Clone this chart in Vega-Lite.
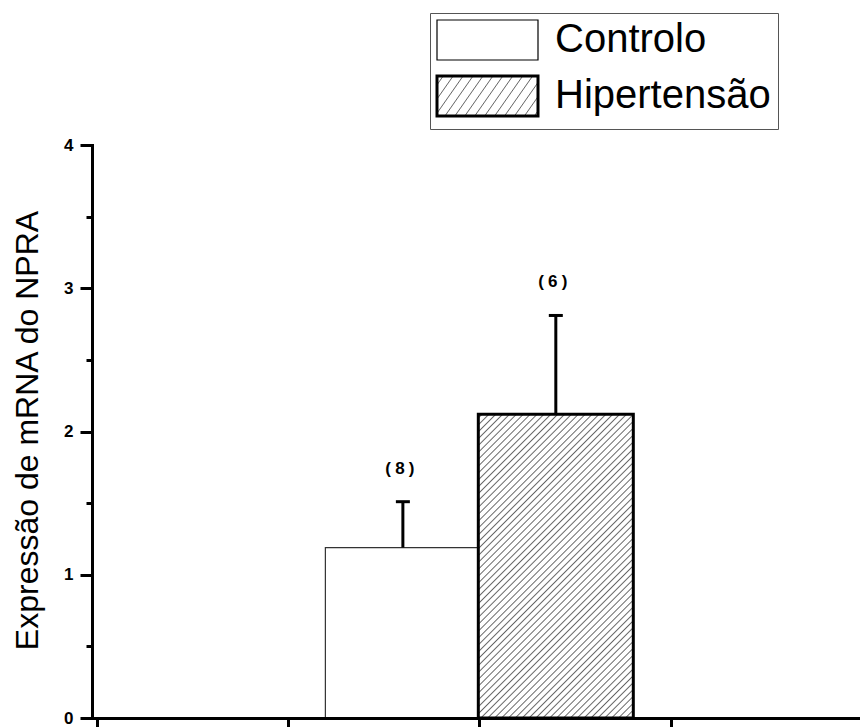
{
  "$schema": "https://vega.github.io/schema/vega-lite/v6.json",
  "width": 768,
  "height": 573,
  "autosize": {"type": "none"},
  "padding": {"left": 92, "top": 145, "right": 0, "bottom": 9},
  "background": "white",
  "config": {"view": {"stroke": null}, "font": "Liberation Sans",
    "axis": {"labelFontSize": 17},
    "axisY": {"labelFontSize": 17, "labelFontWeight": "bold", "labelFont": "Liberation Sans"},
    "axisLeft": {"labelFontSize": 17},
    "axisQuantitative": {"labelFontSize": 17}},
  "data": {"values": [
    {"group": "Controlo", "pos": 1.6, "value": 1.19, "upper": 1.51, "n": "(\u20058\u2005)"},
    {"group": "Hipertensão", "pos": 2.4, "value": 2.12, "upper": 2.81, "n": "(\u20056\u2005)"}
  ]},
  "layer": [
    {
      "mark": {"type": "bar", "width": 155, "orient": "vertical"},
      "encoding": {
        "x": {"field": "pos", "type": "quantitative",
          "scale": {"domain": [0, 3.965], "nice": false, "zero": false},
          "axis": {"title": null, "values": [0, 1, 2, 3], "labels": false, "tickSize": 10, "tickWidth": 3, "tickColor": "#000", "domainWidth": 3, "domainColor": "#000", "domainCap": "square", "grid": false, "zindex": 1}},
        "y": {"field": "value", "type": "quantitative", "stack": null,
          "scale": {"domain": [0, 4], "nice": false},
          "axis": {"title": "Expressão de mRNA do NPRA", "values": [0, 0.5, 1, 1.5, 2, 2.5, 3, 3.5, 4],
            "labelExpr": "datum.value % 1 === 0 ? '' + datum.value : ''",
            "tickSize": 12,
            "tickDash": {"condition": {"test": "datum.value % 1 !== 0", "value": [6, 30]}, "value": []},
            "tickWidth": 3, "tickColor": "#000", "domainWidth": 3, "domainColor": "#000", "domainCap": "square",
            "labelFontSize": 17, "labelFontWeight": "bold", "labelColor": "#000", "labelPadding": 7, "labelOverlap": false,
            "grid": false, "zindex": 1,
            "titleFont": "Liberation Sans", "titleFontSize": 32, "titleFontWeight": "normal", "titleColor": "#000",
            "titleX": -55, "titleY": 285, "titleAlign": "center", "titleBaseline": "alphabetic", "titleAngle": -90}},
        "fill": {
          "condition": {"test": "datum.group === 'Hipertensão'", "value": {"gradient": "linear", "x1": 0, "y1": 0, "x2": 0.611, "y2": 1.198, "stops": [
            {"offset":0.005,"color":"#fff"},{"offset":0.008,"color":"#666"},{"offset":0.011,"color":"#fff"},
            {"offset":0.02,"color":"#fff"},{"offset":0.023,"color":"#666"},{"offset":0.026,"color":"#fff"},
            {"offset":0.035,"color":"#fff"},{"offset":0.038,"color":"#666"},{"offset":0.041,"color":"#fff"},
            {"offset":0.05,"color":"#fff"},{"offset":0.053,"color":"#666"},{"offset":0.056,"color":"#fff"},
            {"offset":0.065,"color":"#fff"},{"offset":0.068,"color":"#666"},{"offset":0.071,"color":"#fff"},
            {"offset":0.08,"color":"#fff"},{"offset":0.083,"color":"#666"},{"offset":0.086,"color":"#fff"},
            {"offset":0.095,"color":"#fff"},{"offset":0.098,"color":"#666"},{"offset":0.101,"color":"#fff"},
            {"offset":0.11,"color":"#fff"},{"offset":0.113,"color":"#666"},{"offset":0.116,"color":"#fff"},
            {"offset":0.125,"color":"#fff"},{"offset":0.128,"color":"#666"},{"offset":0.131,"color":"#fff"},
            {"offset":0.14,"color":"#fff"},{"offset":0.143,"color":"#666"},{"offset":0.146,"color":"#fff"},
            {"offset":0.155,"color":"#fff"},{"offset":0.158,"color":"#666"},{"offset":0.161,"color":"#fff"},
            {"offset":0.17,"color":"#fff"},{"offset":0.173,"color":"#666"},{"offset":0.176,"color":"#fff"},
            {"offset":0.185,"color":"#fff"},{"offset":0.188,"color":"#666"},{"offset":0.191,"color":"#fff"},
            {"offset":0.2,"color":"#fff"},{"offset":0.203,"color":"#666"},{"offset":0.206,"color":"#fff"},
            {"offset":0.215,"color":"#fff"},{"offset":0.218,"color":"#666"},{"offset":0.221,"color":"#fff"},
            {"offset":0.23,"color":"#fff"},{"offset":0.233,"color":"#666"},{"offset":0.236,"color":"#fff"},
            {"offset":0.245,"color":"#fff"},{"offset":0.248,"color":"#666"},{"offset":0.251,"color":"#fff"},
            {"offset":0.26,"color":"#fff"},{"offset":0.263,"color":"#666"},{"offset":0.266,"color":"#fff"},
            {"offset":0.275,"color":"#fff"},{"offset":0.278,"color":"#666"},{"offset":0.281,"color":"#fff"},
            {"offset":0.29,"color":"#fff"},{"offset":0.293,"color":"#666"},{"offset":0.296,"color":"#fff"},
            {"offset":0.305,"color":"#fff"},{"offset":0.308,"color":"#666"},{"offset":0.311,"color":"#fff"},
            {"offset":0.32,"color":"#fff"},{"offset":0.323,"color":"#666"},{"offset":0.326,"color":"#fff"},
            {"offset":0.335,"color":"#fff"},{"offset":0.338,"color":"#666"},{"offset":0.341,"color":"#fff"},
            {"offset":0.35,"color":"#fff"},{"offset":0.353,"color":"#666"},{"offset":0.356,"color":"#fff"},
            {"offset":0.365,"color":"#fff"},{"offset":0.368,"color":"#666"},{"offset":0.371,"color":"#fff"},
            {"offset":0.38,"color":"#fff"},{"offset":0.383,"color":"#666"},{"offset":0.386,"color":"#fff"},
            {"offset":0.395,"color":"#fff"},{"offset":0.398,"color":"#666"},{"offset":0.401,"color":"#fff"},
            {"offset":0.41,"color":"#fff"},{"offset":0.413,"color":"#666"},{"offset":0.416,"color":"#fff"},
            {"offset":0.425,"color":"#fff"},{"offset":0.428,"color":"#666"},{"offset":0.431,"color":"#fff"},
            {"offset":0.44,"color":"#fff"},{"offset":0.443,"color":"#666"},{"offset":0.446,"color":"#fff"},
            {"offset":0.455,"color":"#fff"},{"offset":0.458,"color":"#666"},{"offset":0.461,"color":"#fff"},
            {"offset":0.47,"color":"#fff"},{"offset":0.473,"color":"#666"},{"offset":0.476,"color":"#fff"},
            {"offset":0.485,"color":"#fff"},{"offset":0.488,"color":"#666"},{"offset":0.491,"color":"#fff"},
            {"offset":0.5,"color":"#fff"},{"offset":0.503,"color":"#666"},{"offset":0.506,"color":"#fff"},
            {"offset":0.515,"color":"#fff"},{"offset":0.518,"color":"#666"},{"offset":0.521,"color":"#fff"},
            {"offset":0.53,"color":"#fff"},{"offset":0.533,"color":"#666"},{"offset":0.536,"color":"#fff"},
            {"offset":0.545,"color":"#fff"},{"offset":0.548,"color":"#666"},{"offset":0.551,"color":"#fff"},
            {"offset":0.56,"color":"#fff"},{"offset":0.563,"color":"#666"},{"offset":0.566,"color":"#fff"},
            {"offset":0.575,"color":"#fff"},{"offset":0.578,"color":"#666"},{"offset":0.581,"color":"#fff"},
            {"offset":0.59,"color":"#fff"},{"offset":0.593,"color":"#666"},{"offset":0.596,"color":"#fff"},
            {"offset":0.605,"color":"#fff"},{"offset":0.608,"color":"#666"},{"offset":0.611,"color":"#fff"},
            {"offset":0.62,"color":"#fff"},{"offset":0.623,"color":"#666"},{"offset":0.626,"color":"#fff"},
            {"offset":0.635,"color":"#fff"},{"offset":0.638,"color":"#666"},{"offset":0.641,"color":"#fff"},
            {"offset":0.65,"color":"#fff"},{"offset":0.653,"color":"#666"},{"offset":0.656,"color":"#fff"},
            {"offset":0.665,"color":"#fff"},{"offset":0.668,"color":"#666"},{"offset":0.671,"color":"#fff"},
            {"offset":0.68,"color":"#fff"},{"offset":0.683,"color":"#666"},{"offset":0.686,"color":"#fff"},
            {"offset":0.695,"color":"#fff"},{"offset":0.698,"color":"#666"},{"offset":0.701,"color":"#fff"},
            {"offset":0.71,"color":"#fff"},{"offset":0.713,"color":"#666"},{"offset":0.716,"color":"#fff"},
            {"offset":0.725,"color":"#fff"},{"offset":0.728,"color":"#666"},{"offset":0.731,"color":"#fff"},
            {"offset":0.74,"color":"#fff"},{"offset":0.743,"color":"#666"},{"offset":0.746,"color":"#fff"},
            {"offset":0.755,"color":"#fff"},{"offset":0.758,"color":"#666"},{"offset":0.761,"color":"#fff"},
            {"offset":0.77,"color":"#fff"},{"offset":0.773,"color":"#666"},{"offset":0.776,"color":"#fff"},
            {"offset":0.785,"color":"#fff"},{"offset":0.788,"color":"#666"},{"offset":0.791,"color":"#fff"},
            {"offset":0.8,"color":"#fff"},{"offset":0.803,"color":"#666"},{"offset":0.806,"color":"#fff"},
            {"offset":0.815,"color":"#fff"},{"offset":0.818,"color":"#666"},{"offset":0.821,"color":"#fff"},
            {"offset":0.83,"color":"#fff"},{"offset":0.833,"color":"#666"},{"offset":0.836,"color":"#fff"},
            {"offset":0.845,"color":"#fff"},{"offset":0.848,"color":"#666"},{"offset":0.851,"color":"#fff"},
            {"offset":0.86,"color":"#fff"},{"offset":0.863,"color":"#666"},{"offset":0.866,"color":"#fff"},
            {"offset":0.875,"color":"#fff"},{"offset":0.878,"color":"#666"},{"offset":0.881,"color":"#fff"},
            {"offset":0.89,"color":"#fff"},{"offset":0.893,"color":"#666"},{"offset":0.896,"color":"#fff"},
            {"offset":0.905,"color":"#fff"},{"offset":0.908,"color":"#666"},{"offset":0.911,"color":"#fff"},
            {"offset":0.92,"color":"#fff"},{"offset":0.923,"color":"#666"},{"offset":0.926,"color":"#fff"},
            {"offset":0.935,"color":"#fff"},{"offset":0.938,"color":"#666"},{"offset":0.941,"color":"#fff"},
            {"offset":0.95,"color":"#fff"},{"offset":0.953,"color":"#666"},{"offset":0.956,"color":"#fff"},
            {"offset":0.965,"color":"#fff"},{"offset":0.968,"color":"#666"},{"offset":0.971,"color":"#fff"},
            {"offset":0.98,"color":"#fff"},{"offset":0.983,"color":"#666"},{"offset":0.986,"color":"#fff"}
          ]}},
          "field": "group", "type": "nominal",
          "scale": {"domain": ["Controlo", "Hipertensão"], "range": ["#ffffff", {"expr": "{gradient: 'linear', x1: 0, y1: 0, x2: 1.186, y2: 0.3295, stops: [{offset: 0.04, color: '#fff'}, {offset: 0.048, color: '#666'}, {offset: 0.056, color: '#fff'}, {offset: 0.117, color: '#fff'}, {offset: 0.125, color: '#666'}, {offset: 0.133, color: '#fff'}, {offset: 0.194, color: '#fff'}, {offset: 0.202, color: '#666'}, {offset: 0.21, color: '#fff'}, {offset: 0.271, color: '#fff'}, {offset: 0.279, color: '#666'}, {offset: 0.287, color: '#fff'}, {offset: 0.348, color: '#fff'}, {offset: 0.356, color: '#666'}, {offset: 0.364, color: '#fff'}, {offset: 0.425, color: '#fff'}, {offset: 0.433, color: '#666'}, {offset: 0.441, color: '#fff'}, {offset: 0.502, color: '#fff'}, {offset: 0.51, color: '#666'}, {offset: 0.518, color: '#fff'}, {offset: 0.579, color: '#fff'}, {offset: 0.587, color: '#666'}, {offset: 0.595, color: '#fff'}, {offset: 0.656, color: '#fff'}, {offset: 0.664, color: '#666'}, {offset: 0.672, color: '#fff'}, {offset: 0.733, color: '#fff'}, {offset: 0.741, color: '#666'}, {offset: 0.749, color: '#fff'}, {offset: 0.81, color: '#fff'}, {offset: 0.818, color: '#666'}, {offset: 0.826, color: '#fff'}, {offset: 0.887, color: '#fff'}, {offset: 0.895, color: '#666'}, {offset: 0.903, color: '#fff'}, {offset: 0.964, color: '#fff'}, {offset: 0.972, color: '#666'}, {offset: 0.98, color: '#fff'}]}"}]},
          "legend": {
            "title": null, "orient": "none", "legendX": 338, "legendY": -132,
            "symbolType": "M-1,-1H4.05V1H-1Z", "symbolSize": 1600,
            "symbolStrokeColor": "#000", "symbolStrokeWidth": 1.2, "symbolOpacity": 1,
            "labelFont": "Liberation Sans", "labelFontSize": 40, "labelColor": "#000", "labelLimit": 400, "labelOffset": 78,
            "rowPadding": 7, "padding": 7, "strokeColor": "#555", "fillColor": "#fff",
            "encode": {"symbols": {"update": {
              "strokeWidth": {"signal": "datum.value === 'Hipertensão' ? 3 : 1.2"},
              "stroke": {"value": "#000"}
            }}}
          }
        },
        "stroke": {"condition": {"test": "datum.group === 'Hipertensão'", "value": "#000"}, "value": "#333"},
        "strokeWidth": {"condition": {"test": "datum.group === 'Hipertensão'", "value": 3}, "value": 1.2}
      }
    },
    {
      "mark": {"type": "rule", "strokeWidth": 3, "color": "#000"},
      "encoding": {
        "x": {"field": "pos", "type": "quantitative"},
        "y": {"field": "value", "type": "quantitative"},
        "y2": {"field": "upper"}
      }
    },
    {
      "mark": {"type": "tick", "orient": "horizontal", "size": 14, "thickness": 3, "color": "#000", "opacity": 1},
      "encoding": {
        "x": {"field": "pos", "type": "quantitative"},
        "y": {"field": "upper", "type": "quantitative"}
      }
    },
    {
      "mark": {"type": "text", "font": "Liberation Sans", "fontSize": 17, "fontWeight": "bold", "baseline": "middle", "dy": -33, "dx": -3, "color": "#000"},
      "encoding": {
        "x": {"field": "pos", "type": "quantitative"},
        "y": {"field": "upper", "type": "quantitative"},
        "text": {"field": "n"}
      }
    }
  ]
}
